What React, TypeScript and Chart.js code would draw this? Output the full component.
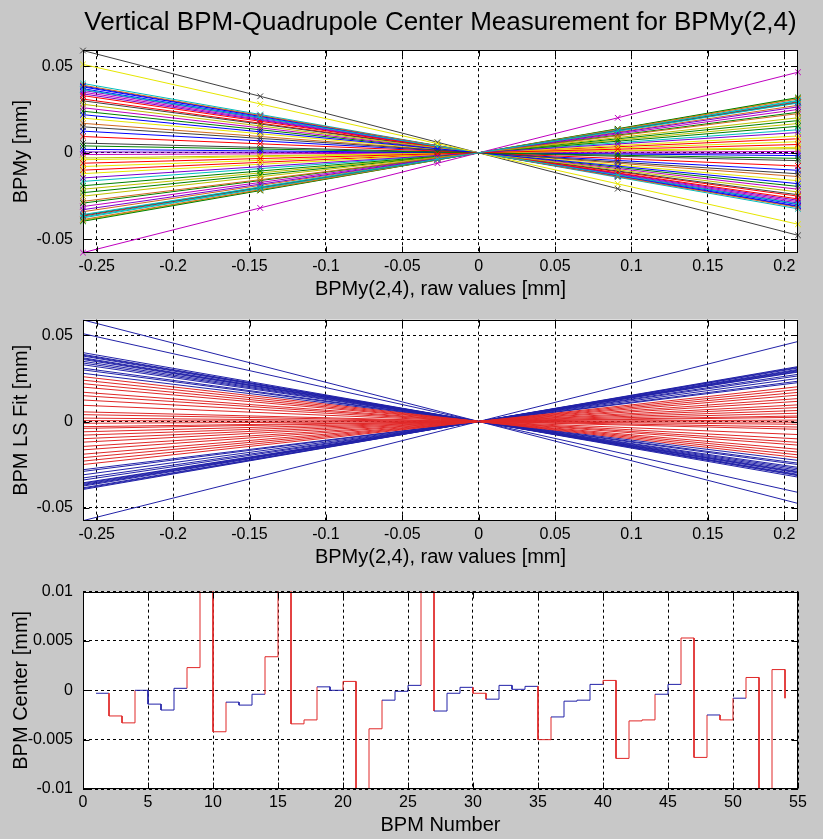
import React, { useEffect, useRef } from 'react';
import { Chart, registerables } from 'chart.js';

Chart.register(...registerables);

const TITLE = 'Vertical BPM-Quadrupole Center Measurement for BPMy(2,4)';

// corrector / reference BPM settings (x of the measured points)
const rawX = [-0.259, -0.143, -0.027, 0.091, 0.209];

const bpmNumbers = [
  1, 2, 3, 4, 5, 6, 7, 8, 9, 10, 11, 12, 13, 14, 15, 16, 17, 18, 19, 20,
  21, 22, 23, 24, 25, 26, 27, 28, 29, 30, 31, 32, 33, 34, 35, 36, 37, 38, 39, 40,
  41, 42, 43, 44, 45, 46, 47, 48, 49, 50, 51, 52, 53, 54,
];

// BPMy readings [mm] of each BPM at the five rawX settings
const bpmReadings = [
  [0.037, 0.0204, 0.0039, -0.013, -0.0299],
  [0.024, 0.0133, 0.0025, -0.0084, -0.0194],
  [-0.01, -0.0055, -0.001, 0.0035, 0.0081],
  [-0.0375, -0.0207, -0.0039, 0.0132, 0.0303],
  [0.035, 0.0193, 0.0036, -0.0123, -0.0282],
  [-0.039, -0.0215, -0.0041, 0.0137, 0.0315],
  [0.059, 0.0326, 0.0061, -0.0207, -0.0476],
  [0.017, 0.0094, 0.0018, -0.006, -0.0137],
  [0.0005, 0.0003, 0.0001, -0.0002, -0.0004],
  [0.02, 0.011, 0.0021, -0.007, -0.0161],
  [0.038, 0.021, 0.004, -0.0134, -0.0307],
  [-0.0395, -0.0218, -0.0041, 0.0139, 0.0319],
  [0.031, 0.0171, 0.0032, -0.0109, -0.025],
  [-0.0165, -0.0091, -0.0017, 0.0058, 0.0133],
  [-0.001, -0.0006, -0.0001, 0.0004, 0.0008],
  [-0.021, -0.0116, -0.0022, 0.0074, 0.0169],
  [0.0056, 0.0031, 0.0006, -0.002, -0.0045],
  [-0.034, -0.0188, -0.0035, 0.0119, 0.0274],
  [0.036, 0.0199, 0.0038, -0.0127, -0.029],
  [-0.0079, -0.0044, -0.0008, 0.0028, 0.0064],
  [0.002, 0.0011, 0.0002, -0.0007, -0.0016],
  [-0.023, -0.0127, -0.0024, 0.0081, 0.0186],
  [-0.0365, -0.0202, -0.0038, 0.0128, 0.0295],
  [0.04, 0.0221, 0.0042, -0.0141, -0.0323],
  [-0.031, -0.0171, -0.0032, 0.0109, 0.025],
  [-0.003, -0.0017, -0.0003, 0.0011, 0.0024],
  [0.03, 0.0166, 0.0031, -0.0105, -0.0242],
  [-0.0385, -0.0213, -0.004, 0.0135, 0.0311],
  [0.034, 0.0188, 0.0035, -0.0119, -0.0274],
  [-0.004, -0.0022, -0.0004, 0.0014, 0.0032],
  [0.0385, 0.0213, 0.004, -0.0135, -0.0311],
  [-0.029, -0.016, -0.003, 0.0102, 0.0234],
  [0.033, 0.0182, 0.0034, -0.0116, -0.0266],
  [-0.037, -0.0204, -0.0039, 0.013, 0.0299],
  [0.026, 0.0144, 0.0027, -0.0091, -0.021],
  [0.028, 0.0155, 0.0029, -0.0098, -0.0226],
  [-0.036, -0.0199, -0.0038, 0.0127, 0.029],
  [0.039, 0.0215, 0.0041, -0.0137, -0.0315],
  [-0.0328, -0.0181, -0.0034, 0.0115, 0.0265],
  [-0.012, -0.0066, -0.0013, 0.0042, 0.0097],
  [0.0125, 0.0069, 0.0013, -0.0044, -0.0101],
  [-0.019, -0.0105, -0.002, 0.0067, 0.0153],
  [0.0094, 0.0052, 0.001, -0.0033, -0.0076],
  [0.0365, 0.0202, 0.0038, -0.0128, -0.0295],
  [-0.0576, -0.0318, -0.006, 0.0202, 0.0465],
  [-0.025, -0.0138, -0.0026, 0.0088, 0.0202],
  [0.015, 0.0083, 0.0016, -0.0053, -0.0121],
  [-0.028, -0.0155, -0.0029, 0.0098, 0.0226],
  [-0.0145, -0.008, -0.0015, 0.0051, 0.0117],
  [0.051, 0.0282, 0.0053, -0.0179, -0.0412],
  [0.022, 0.0121, 0.0023, -0.0077, -0.0178],
  [0.004, 0.0022, 0.0004, -0.0014, -0.0032],
  [-0.006, -0.0033, -0.0006, 0.0021, 0.0048],
  [-0.0356, -0.0197, -0.0037, 0.0125, 0.0287],
];

// BPMs whose fit is poor (drawn red)
const badBpms = [2, 3, 8, 9, 10, 14, 15, 16, 17, 20, 21, 22, 26, 30, 35, 40, 41, 42, 43, 46, 47, 49, 51, 52, 53];

// fitted BPM centers [mm]
const bpmCenter = [
  -0.0003, -0.0026, -0.0033, 0.0, -0.0014, -0.002, 0.0002, 0.0023, 0.02, -0.0042,
  -0.0012, -0.0015, -0.0004, 0.0034, 0.02, -0.0034, -0.003, 0.00035, 0.0, 0.0009,
  -0.02, -0.0039, -0.001, -0.0001, 0.0005, 0.02, -0.0021, -0.0003, 0.0003, -0.0003,
  -0.0009, 0.0005, 0.0001, 0.0004, -0.005, -0.0027, -0.0011, -0.001, 0.0006, 0.001,
  -0.0069, -0.0031, -0.003, -0.0004, 0.0006, 0.0053, -0.0068, -0.0025, -0.003, -0.0008,
  0.0013, -0.02, 0.0021, -0.0008,
];

const rawTicks = [-0.25, -0.2, -0.15, -0.1, -0.05, 0, 0.05, 0.1, 0.15, 0.2];
const yTicksRaw = [-0.05, 0, 0.05];
const bpmTicks = [0, 5, 10, 15, 20, 25, 30, 35, 40, 45, 50, 55];
const centerTicks = [-0.01, -0.005, 0, 0.005, 0.01];

const PALETTE = ['#0000ff', '#008000', '#ff0000', '#00bfbf', '#bf00bf', '#bfbf00', '#404040', '#d2691e', '#7b00d0', '#e6e600'];
const BLUE = '#2222a8';
const RED = '#e02828';
const FONT = "'Liberation Sans', Arial, sans-serif";
const BG = '#c8c8c8';

const frame = {
  id: 'frame',
  afterDatasetsDraw(chart: any) {
    const { ctx, chartArea: a, scales } = chart;
    const L = Math.round(a.left) + 0.5;
    const R = Math.round(a.right) - 0.5;
    const T = Math.round(a.top) + 0.5;
    const B = Math.round(a.bottom) - 0.5;
    const tl = 6;
    ctx.save();
    ctx.strokeStyle = '#000';
    ctx.lineWidth = 1;
    ctx.setLineDash([]);
    ctx.beginPath();
    for (const t of scales.x.ticks) {
      const px = Math.round(scales.x.getPixelForValue(t.value)) + 0.5;
      ctx.moveTo(px, B); ctx.lineTo(px, B - tl);
      ctx.moveTo(px, T); ctx.lineTo(px, T + tl);
    }
    for (const t of scales.y.ticks) {
      const py = Math.round(scales.y.getPixelForValue(t.value)) + 0.5;
      ctx.moveTo(L, py); ctx.lineTo(L + tl, py);
      ctx.moveTo(R, py); ctx.lineTo(R - tl, py);
    }
    ctx.stroke();
    ctx.strokeRect(L, T, R - L, B - T);
    ctx.restore();
  },
};

const white = {
  id: 'whiteArea',
  beforeDraw(chart: any) {
    const { ctx, chartArea: a } = chart;
    ctx.save();
    ctx.fillStyle = '#fff';
    ctx.fillRect(a.left, a.top, a.right - a.left, a.bottom - a.top);
    ctx.restore();
  },
};

function xScale(min: number, max: number, ticks: number[], title: string) {
  return {
    type: 'linear',
    min,
    max,
    afterBuildTicks: (s: any) => { s.ticks = ticks.map((v) => ({ value: v })); },
    afterFit: (s: any) => { s.height = 50; },
    grid: { color: '#000', lineWidth: 1, drawTicks: false },
    border: { display: false, dash: [3, 3] },
    ticks: {
      padding: 4,
      color: '#000',
      autoSkip: false,
      maxRotation: 0,
      font: { family: FONT, size: 16 },
      callback: (v: number) => String(v),
    },
    title: { display: true, text: title, color: '#000', font: { family: FONT, size: 20 }, padding: { top: 0, bottom: 2 } },
  };
}

function yScale(min: number, max: number, ticks: number[], title: string) {
  return {
    type: 'linear',
    min,
    max,
    afterBuildTicks: (s: any) => { s.ticks = ticks.map((v) => ({ value: v })); },
    afterFit: (s: any) => { s.width = 83; },
    grid: { color: '#000', lineWidth: 1, drawTicks: false },
    border: { display: false, dash: [3, 3] },
    ticks: {
      padding: 10,
      color: '#000',
      autoSkip: false,
      font: { family: FONT, size: 16 },
      callback: (v: number) => String(v),
    },
    title: { display: true, text: title, color: '#000', font: { family: FONT, size: 20 }, padding: { top: 9, bottom: 0 } },
  };
}

const xMin = Math.min(...rawX);
const xMax = Math.max(...rawX);
const Y_MIN = -0.0578;
const Y_MAX = 0.0592;

function lsFit(ys: number[]) {
  const n = rawX.length;
  const mx = rawX.reduce((s, v) => s + v, 0) / n;
  const my = ys.reduce((s, v) => s + v, 0) / n;
  let sxy = 0;
  let sxx = 0;
  for (let j = 0; j < n; j++) {
    sxy += (rawX[j] - mx) * (ys[j] - my);
    sxx += (rawX[j] - mx) * (rawX[j] - mx);
  }
  const k = sxy / sxx;
  return { k, b: my - k * mx };
}

export default function App() {
  const c1 = useRef<HTMLCanvasElement>(null);
  const c2 = useRef<HTMLCanvasElement>(null);
  const c3 = useRef<HTMLCanvasElement>(null);

  useEffect(() => {
    const n = bpmReadings.length;
    const isBad = (i: number) => badBpms.includes(bpmNumbers[i]);

    const common = (padTop: number) => ({
      animation: false,
      responsive: false,
      events: [],
      layout: { padding: { top: padTop, right: 25, bottom: 0, left: 0 } },
    });

    const chart1 = new Chart(c1.current!, {
      type: 'line',
      data: {
        datasets: bpmReadings.map((row, i) => ({
          label: 'BPM ' + bpmNumbers[i],
          data: row.map((y, j) => ({ x: rawX[j], y })),
          borderColor: PALETTE[i % PALETTE.length],
          backgroundColor: PALETTE[i % PALETTE.length],
          borderWidth: 1,
          pointStyle: 'crossRot',
          pointRadius: 4,
          pointBorderWidth: 1,
          clip: false,
          order: n - i,
        })),
      },
      options: {
        ...common(0),
        plugins: {
          legend: { display: false },
          tooltip: { enabled: false },
          title: {
            display: true,
            text: TITLE,
            color: '#000',
            fullSize: false,
            font: { family: FONT, size: 26, weight: 'normal' },
            padding: { top: 7, bottom: 12 },
          },
        },
        scales: {
          x: xScale(xMin, xMax, rawTicks, 'BPMy(2,4), raw values [mm]'),
          y: yScale(Y_MIN, Y_MAX, yTicksRaw, 'BPMy [mm]'),
        },
      } as any,
      plugins: [white, frame],
    } as any);

    const chart2 = new Chart(c2.current!, {
      type: 'line',
      data: {
        datasets: bpmReadings.map((row, i) => {
          const { k, b } = lsFit(row);
          const col = isBad(i) ? RED : BLUE;
          return {
            label: 'Fit ' + bpmNumbers[i],
            data: [
              { x: xMin, y: k * xMin + b },
              { x: xMax, y: k * xMax + b },
            ],
            borderColor: col,
            borderWidth: 1,
            pointRadius: 0,
            order: isBad(i) ? 0 : 1,
          };
        }),
      },
      options: {
        ...common(19),
        plugins: { legend: { display: false }, tooltip: { enabled: false } },
        scales: {
          x: xScale(xMin, xMax, rawTicks, 'BPMy(2,4), raw values [mm]'),
          y: yScale(Y_MIN, Y_MAX, yTicksRaw, 'BPM LS Fit [mm]'),
        },
      } as any,
      plugins: [white, frame],
    } as any);

    const stairPts: { x: number; y: number }[] = [];
    const stairCols: string[] = [];
    for (let i = 0; i < n; i++) {
      stairPts.push({ x: bpmNumbers[i], y: bpmCenter[i] });
      if (i < n - 1) {
        stairCols.push(isBad(i) ? RED : BLUE);
        stairPts.push({ x: bpmNumbers[i + 1], y: bpmCenter[i] });
        stairCols.push(isBad(i) || isBad(i + 1) ? RED : BLUE);
      }
    }

    const chart3 = new Chart(c3.current!, {
      type: 'line',
      data: {
        datasets: [
          {
            label: 'BPM Center',
            data: stairPts,
            borderColor: BLUE,
            borderWidth: 1,
            pointRadius: 0,
            segment: { borderColor: (ctx: any) => stairCols[ctx.p0DataIndex] },
          },
        ],
      },
      options: {
        ...common(14),
        plugins: { legend: { display: false }, tooltip: { enabled: false } },
        scales: {
          x: xScale(0, 55, bpmTicks, 'BPM Number'),
          y: yScale(-0.01, 0.01, centerTicks, 'BPM Center [mm]'),
        },
      } as any,
      plugins: [white, frame],
    } as any);

    return () => {
      chart1.destroy();
      chart2.destroy();
      chart3.destroy();
    };
  }, []);

  const cs: React.CSSProperties = { position: 'absolute', left: 0 };
  return (
    <div style={{ position: 'relative', width: 823, height: 839, background: BG, overflow: 'hidden' }}>
      <style>{'body{margin:0;}'}</style>
      <canvas ref={c1} width={823} height={303} style={{ ...cs, top: 0 }} />
      <canvas ref={c2} width={823} height={271} style={{ ...cs, top: 300 }} />
      <canvas ref={c3} width={823} height={267} style={{ ...cs, top: 572 }} />
    </div>
  );
}
